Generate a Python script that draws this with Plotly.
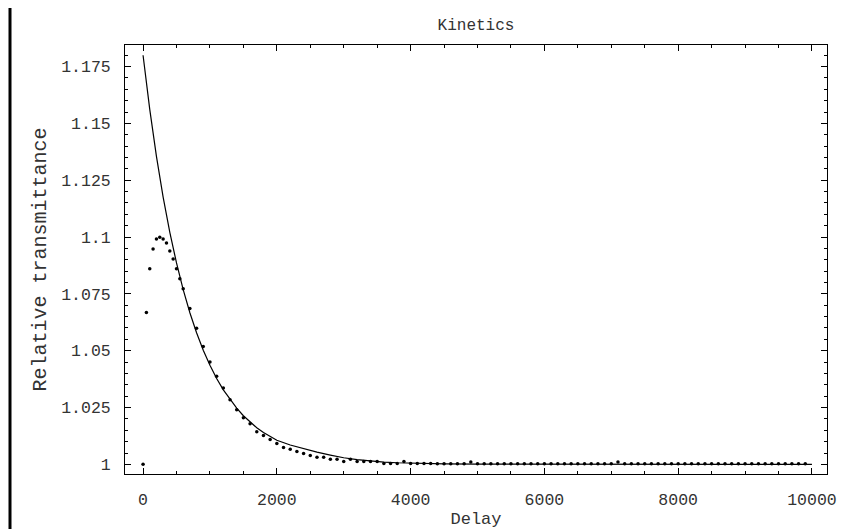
import plotly.graph_objects as go

# Measured points (delay, relative transmittance)
DELAY = [0, 50, 100, 150, 200, 250, 300, 350, 400, 450, 500, 550, 600,
         700, 800, 900, 1000, 1100, 1200, 1300, 1400, 1500, 1600, 1700, 1800, 1900,
         2000, 2100, 2200, 2300, 2400, 2500, 2600, 2700, 2800, 2900,
         3000, 3100, 3200, 3300, 3400, 3500, 3600, 3700, 3800, 3900,
         4000, 4100, 4200, 4300, 4400, 4500, 4600, 4700, 4800, 4900,
         5000, 5100, 5200, 5300, 5400, 5500, 5600, 5700, 5800, 5900,
         6000, 6100, 6200, 6300, 6400, 6500, 6600, 6700, 6800, 6900,
         7000, 7100, 7200, 7300, 7400, 7500, 7600, 7700, 7800, 7900,
         8000, 8100, 8200, 8300, 8400, 8500, 8600, 8700, 8800, 8900,
         9000, 9100, 9200, 9300, 9400, 9500, 9600, 9700, 9800, 9900]
SIGNAL = [1.0000, 1.0668, 1.0861, 1.0948, 1.0992, 1.0999, 1.0992, 1.0974, 1.0939, 1.0904, 1.0861, 1.0817, 1.0773,
          1.0686, 1.0599, 1.0518, 1.0450, 1.0388, 1.0336, 1.0284, 1.0240, 1.0205, 1.0179, 1.0144, 1.0127, 1.0109,
          1.0092, 1.0074, 1.0066, 1.0057, 1.0048, 1.0039, 1.0031, 1.0031, 1.0022, 1.0022,
          1.0013, 1.0022, 1.0013, 1.0013, 1.0013, 1.0013, 1.0004, 1.0004, 1.0004, 1.0013,
          1.0004, 1.0004, 1.0004, 1.0004, 1.0003, 1.0003, 1.0003, 1.0003, 1.0003, 1.0010,
          1.0003, 1.0003, 1.0003, 1.0003, 1.0003, 1.0003, 1.0003, 1.0003, 1.0003, 1.0003,
          1.0003, 1.0003, 1.0003, 1.0003, 1.0003, 1.0003, 1.0003, 1.0003, 1.0003, 1.0003,
          1.0003, 1.0010, 1.0003, 1.0003, 1.0003, 1.0003, 1.0003, 1.0003, 1.0003, 1.0003,
          1.0003, 1.0003, 1.0003, 1.0003, 1.0003, 1.0003, 1.0003, 1.0003, 1.0003, 1.0003,
          1.0003, 1.0003, 1.0003, 1.0003, 1.0003, 1.0003, 1.0003, 1.0003, 1.0003, 1.0003]

# Fitted curve
FIT_DELAY = [0, 100, 200, 300, 400, 500, 600, 700, 800, 900, 1000, 1100, 1200, 1300, 1400,
             1500, 1600, 1700, 1800, 1900, 2000, 2200, 2400, 2600, 2800, 3000, 3200, 3400,
             3600, 3800, 4000, 4500, 5000, 6000, 7000, 8000, 9000, 10000]
FIT_VALUE = [1.1800, 1.1562, 1.1355, 1.1176, 1.1021, 1.0886, 1.0769, 1.0667, 1.0579, 1.0502,
             1.0436, 1.0378, 1.0328, 1.0285, 1.0247, 1.0214, 1.0186, 1.0161, 1.0140, 1.0122,
             1.0106, 1.0085, 1.0068, 1.0054, 1.0041, 1.0029, 1.0021, 1.0015, 1.0010, 1.0007,
             1.0005, 1.0002, 1.0001, 1.0000, 1.0000, 1.0000, 1.0000, 1.0000]

X_TICKS = [0, 2000, 4000, 6000, 8000, 10000]
X_TICK_LABELS = ["0", "2000", "4000", "6000", "8000", "10000"]
Y_TICKS = [1, 1.025, 1.05, 1.075, 1.1, 1.125, 1.15, 1.175]
Y_TICK_LABELS = ["1", "1.025", "1.05", "1.075", "1.1", "1.125", "1.15", "1.175"]

FONT = "Liberation Mono"
TEXT_COLOR = "#333333"

fig = go.Figure()
fig.add_trace(go.Scatter(x=FIT_DELAY, y=FIT_VALUE, mode="lines",
                         line=dict(color="black", width=1.2), showlegend=False))
fig.add_trace(go.Scatter(x=DELAY, y=SIGNAL, mode="markers",
                         marker=dict(color="black", size=3.5, symbol="circle"),
                         showlegend=False))

axis_common = dict(
    showline=True, linecolor="black", linewidth=1, mirror="allticks",
    ticks="inside", ticklen=6, tickwidth=1, tickcolor="black",
    showgrid=False, zeroline=False,
    tickfont=dict(family=FONT, size=16.5, color=TEXT_COLOR),
)

fig.update_layout(
    width=865, height=529,
    margin=dict(l=117, r=46, t=37, b=60),
    paper_bgcolor="white", plot_bgcolor="white",
    font=dict(family=FONT, size=16, color=TEXT_COLOR),
    title=dict(text="Kinetics", x=0.5, xref="paper", xanchor="center",
               y=1 - 16 / 529, yref="container", yanchor="middle",
               font=dict(family=FONT, size=16, color=TEXT_COLOR)),
    xaxis=dict(range=[-270, 10225], tickmode="array", tickvals=X_TICKS, ticktext=X_TICK_LABELS,
               minor=dict(tick0=0, dtick=500, ticks="inside", ticklen=3, tickcolor="black", showgrid=False),
               title=dict(text="Delay", standoff=3, font=dict(family=FONT, size=17, color=TEXT_COLOR)),
               ticklabelstandoff=10,
               **axis_common),
    yaxis=dict(range=[0.99576, 1.1845], tickmode="array", tickvals=Y_TICKS, ticktext=Y_TICK_LABELS,
               minor=dict(tick0=1, dtick=0.005, ticks="inside", ticklen=3, tickcolor="black", showgrid=False),
               title=dict(text="Relative transmittance", standoff=9,
                          font=dict(family=FONT, size=20, color=TEXT_COLOR)),
               ticklabelstandoff=10,
               **axis_common),
    shapes=[dict(type="line", xref="paper", yref="paper",
                 x0=(2 - 117) / 702, x1=(2 - 117) / 702, y0=-0.2, y1=1.2,
                 line=dict(color="black", width=3))],
)

fig.write_html("out.html")
